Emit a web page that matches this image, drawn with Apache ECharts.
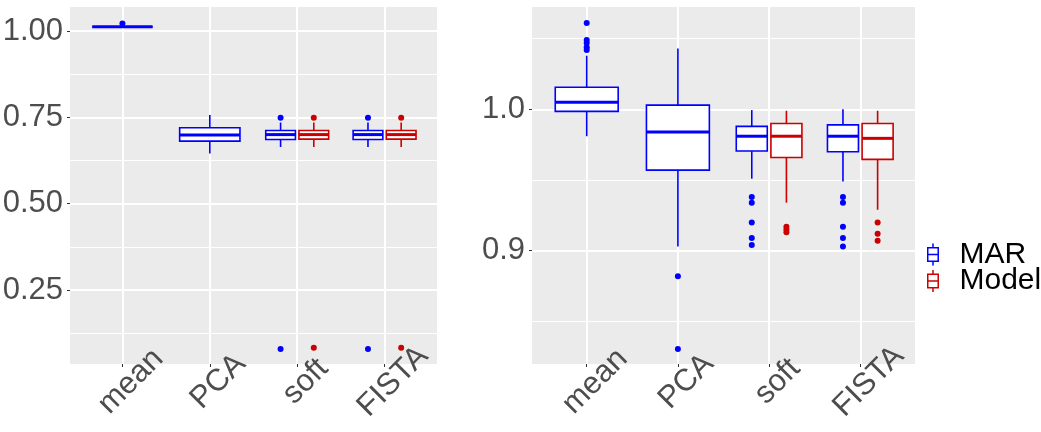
<!DOCTYPE html>
<html>
<head>
<meta charset="utf-8">
<script src="https://cdn.jsdelivr.net/npm/echarts@6/dist/echarts.min.js"></script>
<style>
html, body { margin: 0; padding: 0; background: #fff; }
#chart { width: 1041px; height: 432px; }
</style>
</head>
<body>
<div id="chart"></div>
<script>
// ---- data: box stats are [min, Q1, median, Q3, max]; null = group not present
const categories = ['mean', 'PCA', 'soft', 'FISTA'];
const groups = ['MAR', 'Model'];

const leftMAR = [
  [1.012, 1.012, 1.012, 1.012, 1.012],
  [0.645, 0.681, 0.699, 0.720, 0.757],
  [0.664, 0.686, 0.700, 0.712, 0.735],
  [0.664, 0.686, 0.700, 0.712, 0.735]
];
const leftModel = [
  null,
  null,
  [0.664, 0.687, 0.700, 0.712, 0.735],
  [0.664, 0.687, 0.700, 0.712, 0.735]
];
const leftOutMAR = [[1.022], [], [0.749, 0.079], [0.749, 0.079]];
const leftOutModel = [[], [], [0.749, 0.083], [0.749, 0.083]];

const rightMAR = [
  [0.981, 0.9986, 1.005, 1.0156, 1.038],
  [0.903, 0.957, 0.984, 1.003, 1.043],
  [0.951, 0.9705, 0.981, 0.988, 0.9995],
  [0.949, 0.970, 0.981, 0.989, 1.000]
];
const rightModel = [
  null,
  null,
  [0.934, 0.966, 0.981, 0.990, 0.999],
  [0.929, 0.9646, 0.9795, 0.990, 0.999]
];
const rightOutMAR = [
  [1.061, 1.049, 1.047, 1.044, 1.042],
  [0.882, 0.8305],
  [0.938, 0.934, 0.920, 0.909, 0.904],
  [0.938, 0.934, 0.917, 0.909, 0.903]
];
const rightOutModel = [[], [], [0.917, 0.915, 0.913], [0.920, 0.912, 0.907]];

const leftTicks = [0.25, 0.5, 0.75, 1.0];
const leftMinor = [0.125, 0.375, 0.625, 0.875];
const rightTicks = [0.9, 1.0];
const rightMinor = [0.85, 0.95, 1.05];

// ---- style
const FONT = '"Liberation Sans", Arial, sans-serif';
const COLORS = { MAR: '#0000FF', Model: '#CC0000' };
const DODGE = 0.19;    // offset of each group from the category centre
const WIDE = 0.69;     // box width when only one group
const NARROW = 0.34;   // box width when dodged
const KEY_ICON = 'path://M5,0L5,4M0,4L10,4L10,17L0,17ZM0,10.5L10,10.5M5,17L5,21';
const LEGEND_TOP = [234.5, 261];

function boxData(stats, other, side) {
  const out = [];
  stats.forEach((s, i) => {
    if (!s) return;
    const paired = other[i] != null;
    out.push([i + 1 + (paired ? side * DODGE : 0)].concat(s, paired ? NARROW : WIDE));
  });
  return out;
}

function outlierData(points, stats, other, side) {
  const out = [];
  points.forEach((vals, i) => {
    const paired = stats[i] != null && other[i] != null;
    const x = i + 1 + (paired ? side * DODGE : 0);
    vals.forEach(v => out.push([x, v]));
  });
  return out;
}

function renderBox(params, api) {
  const x = api.value(0);
  const hw = api.value(6) / 2;
  const color = api.visual('color');
  const lo = api.coord([x - hw, api.value(2)]);
  const hi = api.coord([x + hw, api.value(4)]);
  const med = api.coord([x, api.value(3)]);
  const top = api.coord([x, api.value(5)]);
  const bot = api.coord([x, api.value(1)]);
  const line = { stroke: color, lineWidth: 1.6 };
  return {
    type: 'group',
    children: [
      { type: 'line', shape: { x1: top[0], y1: top[1], x2: top[0], y2: hi[1] }, style: line },
      { type: 'line', shape: { x1: bot[0], y1: bot[1], x2: bot[0], y2: lo[1] }, style: line },
      { type: 'rect', shape: { x: lo[0], y: hi[1], width: hi[0] - lo[0], height: lo[1] - hi[1] },
        style: { fill: '#fff', stroke: color, lineWidth: 1.6 } },
      { type: 'line', shape: { x1: lo[0], y1: med[1], x2: hi[0], y2: med[1] },
        style: { stroke: color, lineWidth: 3 } }
    ]
  };
}

function panelSeries(idx, mar, model, outMar, outModel) {
  const make = (name, stats, other, side, outs) => [
    {
      name, type: 'custom', xAxisIndex: idx, yAxisIndex: idx * 2,
      itemStyle: { color: COLORS[name] },
      encode: { x: 0, y: [1, 2, 3, 4, 5] },
      renderItem: renderBox,
      data: boxData(stats, other, side),
      z: 3
    },
    {
      name, type: 'scatter', xAxisIndex: idx, yAxisIndex: idx * 2,
      symbolSize: 6,
      itemStyle: { color: COLORS[name], opacity: 1 },
      data: outlierData(outs, stats, other, side),
      z: 4
    }
  ];
  return make('MAR', mar, model, -1, outMar).concat(make('Model', model, mar, 1, outModel));
}

function xAxis(gridIndex) {
  return {
    gridIndex, type: 'value', min: 0.4, max: 4.6,
    axisLine: { show: false },
    axisTick: { show: true, length: 3, customValues: [1, 2, 3, 4], lineStyle: { color: '#333' } },
    axisLabel: {
      customValues: [1, 2, 3, 4],
      formatter: v => categories[Math.round(v) - 1],
      rotate: 45, align: 'center', verticalAlign: 'middle',
      margin: 26, padding: [0, 0, 0, 24],
      fontSize: 31, color: '#4D4D4D', fontFamily: FONT
    },
    splitLine: { show: true, lineStyle: { color: '#fff', width: 2 } }
  };
}

function yAxes(gridIndex, min, max, ticks, minor, digits) {
  return [
    {
      gridIndex, type: 'value', min, max,
      axisLine: { show: false },
      axisTick: { show: true, length: 3, customValues: ticks, lineStyle: { color: '#333' } },
      axisLabel: {
        customValues: ticks, formatter: v => v.toFixed(digits),
        fontSize: 31, color: '#4D4D4D', fontFamily: FONT, margin: 7
      },
      splitLine: { show: true, lineStyle: { color: '#fff', width: 2 } }
    },
    {
      gridIndex, type: 'value', min, max, position: 'left',
      axisLine: { show: false },
      axisTick: { show: false, customValues: minor },
      axisLabel: { show: false, customValues: minor },
      splitLine: { show: true, lineStyle: { color: '#fff', width: 1 } }
    }
  ];
}

// one legend per group so the two keys can sit as tightly as in ggplot
const legends = groups.map((g, i) => ({
  orient: 'vertical', left: 922, top: LEGEND_TOP[i],
  itemWidth: 11, itemHeight: 22,
  selectedMode: false,
  data: [{
    name: g, icon: KEY_ICON,
    itemStyle: { color: '#fff', borderColor: COLORS[g], borderWidth: 1.5 }
  }],
  textStyle: { fontSize: 30, color: '#000', fontFamily: FONT, padding: [0, 0, 0, 16] }
}));

const chart = echarts.init(document.getElementById('chart'), null, { renderer: 'canvas' });

chart.setOption({
  animation: false,
  backgroundColor: '#fff',
  textStyle: { fontFamily: FONT },
  grid: [
    { left: 70, top: 7, width: 367, height: 357, show: true, backgroundColor: '#EBEBEB',
      borderWidth: 0, containLabel: false, outerBoundsMode: 'none' },
    { left: 532, top: 7, width: 383, height: 357, show: true, backgroundColor: '#EBEBEB',
      borderWidth: 0, containLabel: false, outerBoundsMode: 'none' }
  ],
  xAxis: [xAxis(0), xAxis(1)],
  yAxis: yAxes(0, 0.0357, 1.0695, leftTicks, leftMinor, 2)
    .concat(yAxes(1, 0.8199, 1.0724, rightTicks, rightMinor, 1)),
  legend: legends,
  series: panelSeries(0, leftMAR, leftModel, leftOutMAR, leftOutModel)
    .concat(panelSeries(1, rightMAR, rightModel, rightOutMAR, rightOutModel))
});

window.addEventListener('resize', () => chart.resize());
</script>
</body>
</html>
